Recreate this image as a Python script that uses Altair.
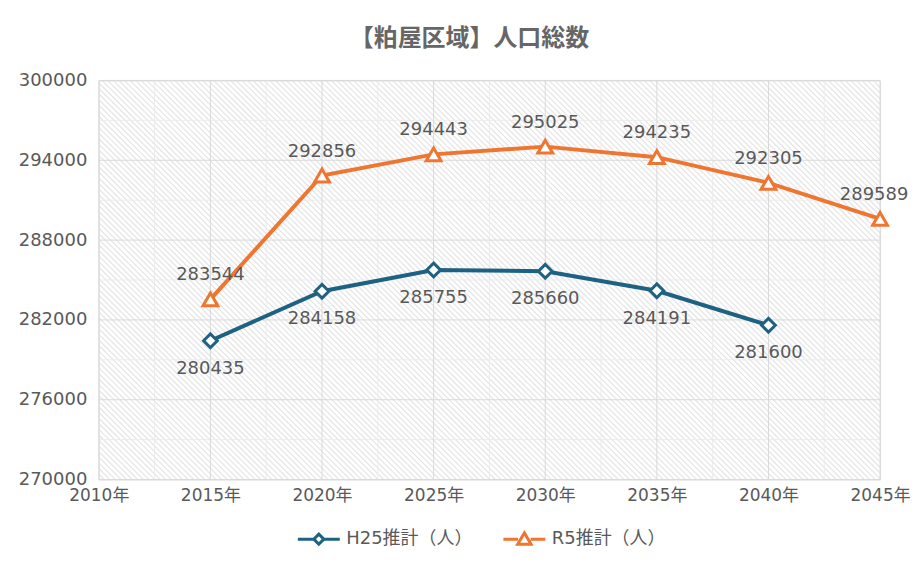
import altair as alt
import pandas as pd
import numpy as np

# ---- data ----
years_h25 = [2015, 2020, 2025, 2030, 2035, 2040]
vals_h25 = [280435, 284158, 285755, 285660, 284191, 281600]
years_r5 = [2015, 2020, 2025, 2030, 2035, 2040, 2045]
vals_r5 = [283544, 292856, 294443, 295025, 294235, 292305, 289589]
series_names = ["H25推計（人）", "R5推計（人）"]
series_colors = ["#1E6283", "#EE7630"]
x_ticks = [2010, 2015, 2020, 2025, 2030, 2035, 2040, 2045]
y_ticks = [270000, 276000, 282000, 288000, 294000, 300000]
x_minor = [2012.5, 2017.5, 2022.5, 2027.5, 2032.5, 2037.5, 2042.5]
y_minor = [273000, 279000, 285000, 291000, 297000]
title_text = "【粕屋区域】人口総数"

df = pd.DataFrame({
    "year": years_h25 + years_r5,
    "value": vals_h25 + vals_r5,
    "series": [series_names[0]] * len(years_h25) + [series_names[1]] * len(years_r5),
})

W, H = 783, 400
XMIN, XMAX = 2010, 2045
YMIN, YMAX = 270000, 300000
px_per_year = W / (XMAX - XMIN)
span_years = H / px_per_year
step_years = 5.6 / px_per_year
x0 = np.arange(XMIN - span_years, XMAX + step_years, step_years)
hatch = pd.DataFrame({"x": x0, "x2": x0 + span_years, "y": YMAX, "y2": YMIN})

FONT = "DejaVu Sans, Noto Sans CJK JP"
TXT = "#595959"
FS = 18

xs = alt.Scale(domain=[XMIN, XMAX], nice=False, zero=False)
ys = alt.Scale(domain=[YMIN, YMAX], nice=False, zero=False)
cscale = alt.Scale(domain=series_names, range=series_colors)

x_axis = alt.Axis(values=x_ticks, labelExpr="datum.value + '年'", title=None,
                  grid=False, domain=False, ticks=False, labelPadding=8, labelFontSize=FS - 1,
                  labelColor=TXT, labelFont=FONT, labelFlush=False, labelBound=False, labelOverlap=False)
y_axis = alt.Axis(values=y_ticks, format="d", title=None, grid=False,
                  domain=False, ticks=False, labelPadding=12, labelFontSize=FS,
                  labelColor=TXT, labelFont=FONT, labelFlush=False, labelBound=False, labelOverlap=False)

leg = alt.Legend(
    title=None, orient="none", legendX=198, legendY=437, direction="horizontal",
    symbolSize=1764, symbolStrokeWidth=3, symbolFillColor="white", symbolOpacity=1,
    labelFont=FONT, labelFontSize=FS, labelColor=TXT, columnPadding=24, labelOffset=5)


def X(f):
    return alt.X(f, scale=xs, axis=x_axis)


def Y(f):
    return alt.Y(f, scale=ys, axis=y_axis)


col = alt.Color("series:N", scale=cscale, legend=leg)

hatch_layer = alt.Chart(hatch).mark_rule(color="#e4e4e4", strokeWidth=1.2, clip=True).encode(
    x=X("x:Q"), x2="x2:Q", y=Y("y:Q"), y2="y2:Q",
)

minor_x = alt.Chart(pd.DataFrame({"v": x_minor})).mark_rule(color="#ececec", strokeWidth=1).encode(x=X("v:Q"))
minor_y = alt.Chart(pd.DataFrame({"v": y_minor})).mark_rule(color="#ececec", strokeWidth=1).encode(y=Y("v:Q"))
major_x = alt.Chart(pd.DataFrame({"v": x_ticks})).mark_rule(color="#d9d9d9", strokeWidth=1).encode(x=X("v:Q"))
major_y = alt.Chart(pd.DataFrame({"v": y_ticks})).mark_rule(color="#d9d9d9", strokeWidth=1).encode(y=Y("v:Q"))

base = alt.Chart(df)

lines = base.mark_line(strokeWidth=4).encode(x=X("year:Q"), y=Y("value:Q"), color=col)

pts_h = base.transform_filter(alt.datum.series == series_names[0]).mark_point(
    shape="diamond", filled=False, fill="white", fillOpacity=1, size=190, strokeWidth=3, opacity=1
).encode(x=X("year:Q"), y=Y("value:Q"), color=col)

pts_r = base.transform_filter(alt.datum.series == series_names[1]).mark_point(
    shape="triangle-up", filled=False, fill="white", fillOpacity=1, size=220, strokeWidth=3, opacity=1
).encode(x=X("year:Q"), y=Y("value:Q"), color=col)

lab_h = base.transform_filter(alt.datum.series == series_names[0]).mark_text(
    dy=28, fontSize=FS, font=FONT, color=TXT
).encode(x=X("year:Q"), y=Y("value:Q"), text=alt.Text("value:Q", format="d"))

lab_r = base.transform_filter(
    (alt.datum.series == series_names[1]) & (alt.datum.year < XMAX)
).mark_text(
    dy=-24, fontSize=FS, font=FONT, color=TXT
).encode(x=X("year:Q"), y=Y("value:Q"), text=alt.Text("value:Q", format="d"))

lab_r_last = base.transform_filter(
    (alt.datum.series == series_names[1]) & (alt.datum.year == XMAX)
).mark_text(
    dy=-24, dx=-6, fontSize=FS, font=FONT, color=TXT
).encode(x=X("year:Q"), y=Y("value:Q"), text=alt.Text("value:Q", format="d"))

legend_paths = [
    "M-1,0L-0.24,0M0.24,0L1,0M0,-0.24L0.24,0L0,0.24L-0.24,0Z",
    "M-1,0L-0.3,0M0.3,0L1,0M0,-0.3L0.32,0.24L-0.32,0.24Z",
]
legend_layer = base.transform_filter("false").mark_point(filled=False, strokeWidth=3, opacity=1).encode(
    x=X("year:Q"), y=Y("value:Q"), color=col,
    shape=alt.Shape("series:N", scale=alt.Scale(domain=series_names, range=legend_paths), legend=leg),
)

chart = alt.layer(
    hatch_layer, minor_x, minor_y, major_x, major_y, lines, pts_h, pts_r, lab_h, lab_r, lab_r_last,
    legend_layer
).properties(
    width=W, height=H,
    title=alt.TitleParams(title_text, font="Noto Sans CJK JP", fontSize=24, fontWeight="bold",
                          color="#666666", anchor="middle", dx=-20, offset=21),
    autosize=alt.AutoSizeParams(type="none"),
    padding={"left": 91, "top": 72, "right": 30, "bottom": 76},
).configure_view(stroke=None).configure(background="white")

chart.save("out.html", embed_options={"renderer": "svg", "actions": False})
